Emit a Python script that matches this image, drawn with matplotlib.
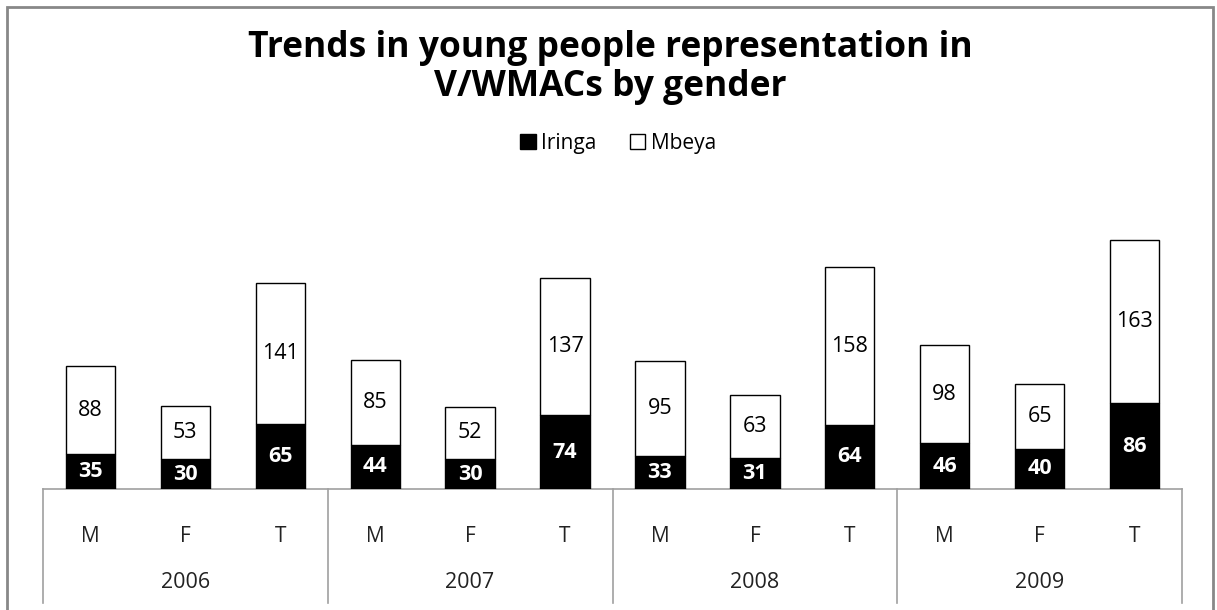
import matplotlib
matplotlib.use("Agg")
import matplotlib.pyplot as plt
from matplotlib.patches import Rectangle, Patch
import numpy as np

years = ["2006", "2007", "2008", "2009"]
genders = ["M", "F", "T"]
iringa = [35, 30, 65, 44, 30, 74, 33, 31, 64, 46, 40, 86]
mbeya = [88, 53, 141, 85, 52, 137, 95, 63, 158, 98, 65, 163]

plt.rcParams['font.family'] = ['Open Sans', 'DejaVu Sans']

W, H = 1217, 610
fig = plt.figure(figsize=(W / 100, H / 100), dpi=100)

ax_left, ax_right = 43, 1182
base_y, top_y = 489, 170
ax = fig.add_axes([ax_left / W, (H - base_y) / H, (ax_right - ax_left) / W, (base_y - top_y) / H])
ax.set_xlim(-0.5, len(iringa) - 0.5)
ax.set_ylim(0, base_y - top_y)

x = np.arange(len(iringa))
bw = 0.52
ax.bar(x, iringa, bw, color='black', edgecolor='black', linewidth=1, label='Iringa', zorder=3)
ax.bar(x, mbeya, bw, bottom=iringa, color='white', edgecolor='black', linewidth=1, label='Mbeya', zorder=3)

for xi, a, b in zip(x, iringa, mbeya):
    ax.text(xi, a / 2, str(a), ha='center', va='center', color='white', fontsize=15.5, fontweight='bold', zorder=4)
    ax.text(xi, a + b / 2, str(b), ha='center', va='center', color='black', fontsize=15.5, zorder=4)

for s in ax.spines.values():
    s.set_visible(False)
ax.set_yticks([])
ax.set_xticks(x)
ax.set_xticklabels(genders * len(years), fontsize=15, color='#222222')
ax.tick_params(axis='x', length=0, pad=27)

tr = ax.get_xaxis_transform()
gray = '#a0a0a0'
ax.plot([-0.5, len(iringa) - 0.5], [0, 0], color=gray, lw=1.2, transform=tr, clip_on=False, zorder=2)
sep_bottom = -(603 - base_y) / (base_y - top_y)
for k in range(len(years) + 1):
    xs = -0.5 + 3 * k
    ax.plot([xs, xs], [0, sep_bottom], color=gray, lw=1.2, transform=tr, clip_on=False)
year_y = -(583 - base_y) / (base_y - top_y)
for k, yname in enumerate(years):
    ax.text(3 * k + 1, year_y, yname, ha='center', va='center', fontsize=15.5, color='#222222', transform=tr)

fig.text(610 / W, 1 - 48 / H, "Trends in young people representation in",
         ha='center', va='center', fontsize=25.5, fontweight='bold')
fig.text(610 / W, 1 - 87 / H, "V/WMACs by gender",
         ha='center', va='center', fontsize=25.5, fontweight='bold')

handles = [Patch(facecolor='black', edgecolor='black', label='Iringa'),
           Patch(facecolor='white', edgecolor='black', label='Mbeya')]
fig.legend(handles=handles, loc='center', bbox_to_anchor=(618 / W, 1 - 143 / H), ncol=2, frameon=False,
           fontsize=15, handlelength=0.75, handleheight=0.75, handletextpad=0.25, columnspacing=1.6)

fig.add_artist(Rectangle((7 / W, -0.05), (1213 - 7) / W, 1.05 - 7 / H, transform=fig.transFigure,
                         fill=False, edgecolor='#888888', linewidth=2))

fig.savefig("out.png", dpi=100)
